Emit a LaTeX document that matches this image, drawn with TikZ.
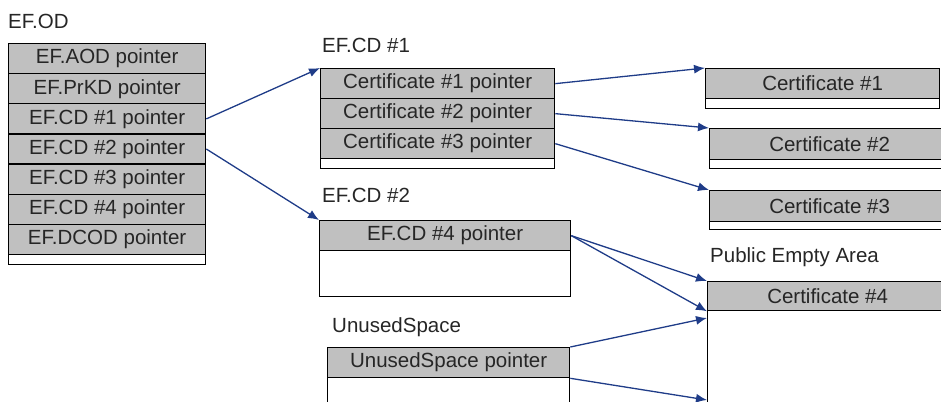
\documentclass[tikz,border=0pt]{standalone}
\usepackage{fontspec}
\setmainfont{Liberation Sans}
\usetikzlibrary{arrows.meta}
\definecolor{cellgray}{HTML}{C0C0C0}
\definecolor{arrowblue}{HTML}{1F3C88}
\begin{document}
\begin{tikzpicture}[x=1pt,y=-1pt,
  txt/.style={font=\fontsize{20.5}{24}\selectfont, text=black!85},
  cell/.style={txt, draw=black, fill=cellgray, line width=1.3pt, rectangle, inner sep=0pt, anchor=north west, minimum height=30pt},
  blank/.style={draw=black, fill=white, line width=1.3pt, rectangle, inner sep=0pt, anchor=north west},
  lbl/.style={txt, anchor=base west, inner sep=0pt},
  arr/.style={draw=arrowblue, line width=1.3pt, -{Latex[length=11pt,width=9pt]}}
]
\useasboundingbox (0,0) rectangle (941,401);
\clip (0,0) rectangle (941,401);

% EF.OD
\node[lbl] (lod) at (8,29) {EF.OD};
\node[cell, minimum width=197pt, minimum height=30.1pt] (od1) at (8,43) {EF.AOD pointer};
\node[cell, minimum width=197pt, minimum height=30.1pt] (od2) at (8,73.1) {EF.PrKD pointer};
\node[cell, minimum width=197pt, minimum height=30.1pt] (od3) at (8,103.2) {EF.CD \#1 pointer};
\node[cell, minimum width=197pt, minimum height=30.1pt] (od4) at (8,133.3) {EF.CD \#2 pointer};
\node[cell, minimum width=197pt, minimum height=30.1pt] (od5) at (8,163.4) {EF.CD \#3 pointer};
\node[cell, minimum width=197pt, minimum height=30.1pt] (od6) at (8,193.5) {EF.CD \#4 pointer};
\node[cell, minimum width=197pt, minimum height=30.1pt] (od7) at (8,223.6) {EF.DCOD pointer};
\node[blank, minimum width=197pt, minimum height=10.3pt] (od8) at (8,253.7) {};

% EF.CD #1
\node[lbl] (lcd1) at (322,53) {EF.CD \#1};
\node[cell, minimum width=234pt] (cd1a) at (320,68) {Certificate \#1 pointer};
\node[cell, minimum width=234pt] (cd1b) at (320,98) {Certificate \#2 pointer};
\node[cell, minimum width=234pt] (cd1c) at (320,128) {Certificate \#3 pointer};
\node[blank, minimum width=234pt, minimum height=10pt] (cd1d) at (320,158) {};

% Certificates
\node[cell, minimum width=234pt] (c1) at (705,68) {Certificate \#1};
\node[blank, minimum width=234pt, minimum height=10pt] (c1b) at (705,98) {};
\node[cell, minimum width=240pt, minimum height=31pt] (c2) at (709,128) {Certificate \#2};
\node[blank, minimum width=240pt, minimum height=9pt] (c2b) at (709,159) {};
\node[cell, minimum width=240pt, minimum height=31pt] (c3) at (709,190) {Certificate \#3};
\node[blank, minimum width=240pt, minimum height=8pt] (c3b) at (709,221) {};

% EF.CD #2
\node[lbl] (lcd2) at (322,202) {EF.CD \#2};
\node[cell, minimum width=251pt] (cd2a) at (319,220) {EF.CD \#4 pointer};
\node[blank, minimum width=251pt, minimum height=46pt] (cd2b) at (319,250) {};

% UnusedSpace
\node[lbl] (lus) at (332,332) {UnusedSpace};
\node[cell, minimum width=242pt] (us) at (327,347) {UnusedSpace pointer};
\node[blank, minimum width=242pt, minimum height=30pt] (usb) at (327,377) {};

% Public Empty Area
\node[lbl] (lpub) at (710,262) {Public Empty Area};
\node[cell, minimum width=240pt, minimum height=29pt] (c4) at (707,281) {Certificate \#4};
\node[blank, minimum width=240pt, minimum height=100pt] (pub) at (707,310) {};
\coordinate (pubIn) at (707,318);
\coordinate (pubBot) at (707,400);

% Connectors
\draw[arr] (od3.east) -- (cd1a.north west);
\draw[arr] (od4.east) -- (cd2a.north west);
\draw[arr] (cd1a.east) -- (c1.north west);
\draw[arr] (cd1b.east) -- (c2.north west);
\draw[arr] (cd1c.east) -- (c3.north west);
\draw[arr] (cd2a.east) -- (c4.north west);
\draw[arr] (cd2a.east) -- (c4.south west);
\draw[arr] (us.north east) -- (pubIn);
\draw[arr] (us.south east) -- (pubBot);
\end{tikzpicture}
\end{document}
